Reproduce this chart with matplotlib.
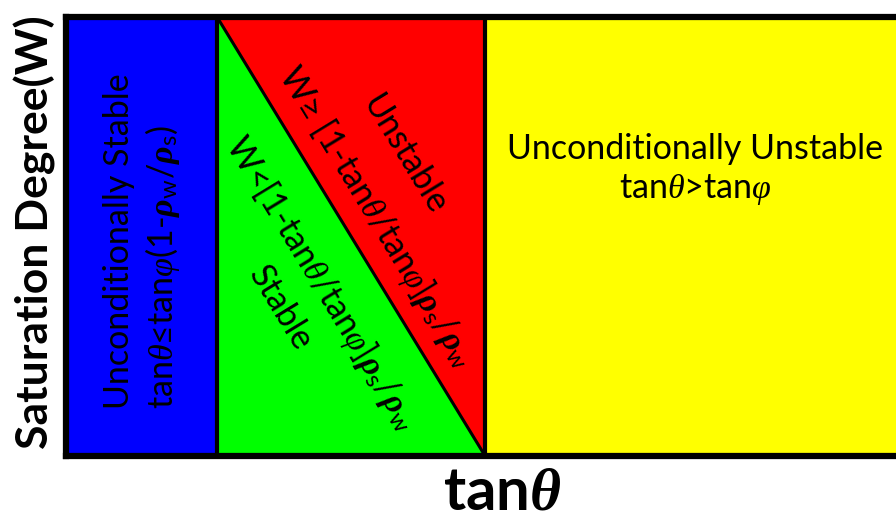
import math
import matplotlib
matplotlib.use("Agg")
import matplotlib.pyplot as plt

plt.rcParams['font.family'] = ['Lato', 'DejaVu Sans']
plt.rcParams['mathtext.fontset'] = 'custom'
plt.rcParams['mathtext.rm'] = 'Lato'
plt.rcParams['mathtext.it'] = 'Liberation Serif:italic'
plt.rcParams['mathtext.bf'] = 'Lato:bold'
plt.rcParams['mathtext.bfit'] = 'Liberation Serif:italic:bold'
plt.rcParams['mathtext.fallback'] = 'stix'

# Region boundaries along tan(theta) (normalised axis 0..1) and W (0..1)
x_bounds = [0.0, 0.182, 0.505, 1.0]
w_range = [0.0, 1.0]
region_colors = ['#0000FF', '#00FF00', '#FF0000', '#FFFF00']

fig = plt.figure(figsize=(8.96, 5.19), dpi=100)
ax = fig.add_axes([66/896, 1 - 456/519, 1 - 66/896, (456 - 17)/519])
ax.set_xlim(x_bounds[0], x_bounds[3])
ax.set_ylim(w_range[0], w_range[1])

b0, b1, b2, b3 = x_bounds
ax.axvspan(b0, b1, color=region_colors[0], lw=0)
ax.fill([b1, b1, b2], [w_range[0], w_range[1], w_range[0]], color=region_colors[1], lw=0)
ax.fill([b1, b2, b2], [w_range[1], w_range[1], w_range[0]], color=region_colors[2], lw=0)
ax.axvspan(b2, b3, color=region_colors[3], lw=0)
ax.plot([b1, b2], [w_range[1], w_range[0]], color='black', lw=2.2, solid_capstyle='butt')
ax.axvline(b1, color='black', lw=3)
ax.axvline(b2, color='black', lw=3)

for s in ['top', 'bottom', 'left']:
    ax.spines[s].set_linewidth(4.5)
ax.spines['right'].set_visible(False)
ax.set_xticks([])
ax.set_yticks([])

fs = 24.5
rho_w = r'$\mathbfit{\rho}_{\mathrm{w}}$'
rho_s = r'$\mathbfit{\rho}_{\mathrm{s}}$'
th = r'$\theta$'
ph = r'$\varphi$'

# Blue region text
ax.text(0.092, 0.49,
        'Unconditionally Stable\ntan' + th + r'$≤$' + 'tan' + ph + '(1-' + rho_w + '/' + rho_s + ')',
        rotation=90, ha='center', va='center', multialignment='left', fontsize=fs,
        linespacing=1.25)

# Yellow region text
ax.text(0.758, 0.651, 'Unconditionally Unstable\ntan' + th + '>tan' + ph,
        ha='center', va='center', multialignment='center', fontsize=fs, linespacing=1.25)

# Diagonal texts
ang = math.degrees(math.atan2(w_range[0] - w_range[1], b2 - b1))
kw = dict(rotation=ang, transform_rotates_text=True, rotation_mode='anchor',
          ha='center', va='center', fontsize=fs)
ax.text(0.408, 0.686, 'Unstable', **kw)
ax.text(0.374, 0.545, 'W' + r'$≥$' + ' [1-tan' + th + '/tan' + ph + ']' + rho_s + '/' + rho_w, **kw)
ax.text(0.308, 0.394, 'W<[1-tan' + th + '/tan' + ph + ']' + rho_s + '/' + rho_w, **kw)
ax.text(0.258, 0.337, 'Stable', **kw)

# Axis labels
fig.text(35/896, 1 - 232/519, 'Saturation Degree(W)', rotation=90, ha='center', va='center',
         fontsize=32, fontweight='bold')
fig.text(502/896, 1 - 492/519, r'tan$\mathbfit{\theta}$', ha='center', va='center',
         fontsize=43, fontweight='bold')

fig.savefig('out.png', dpi=100)
